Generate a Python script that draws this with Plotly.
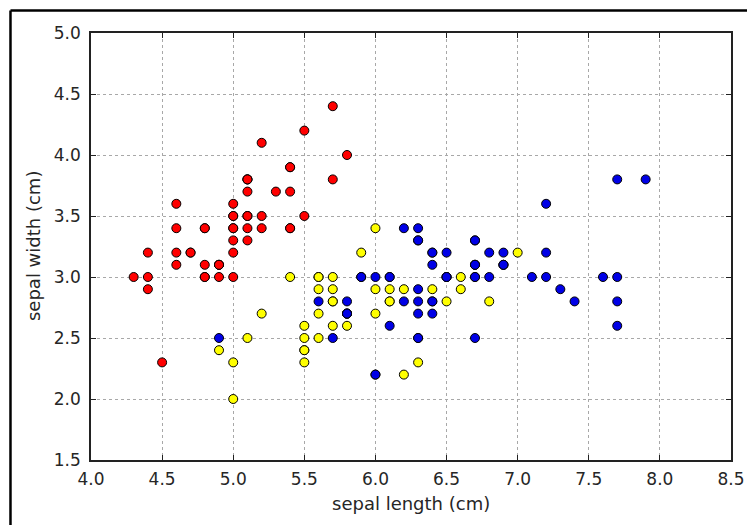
import plotly.graph_objects as go

# Iris sepal measurements, one pair of lists per species
setosa_length = [5.1, 4.9, 4.7, 4.6, 5.0, 5.4, 4.6, 5.0, 4.4, 4.9, 5.4, 4.8, 4.8, 4.3, 5.8, 5.7, 5.4,
                 5.1, 5.7, 5.1, 5.4, 5.1, 4.6, 5.1, 4.8, 5.0, 5.0, 5.2, 5.2, 4.7, 4.8, 5.4, 5.2, 5.5,
                 4.9, 5.0, 5.5, 4.9, 4.4, 5.1, 5.0, 4.5, 4.4, 5.0, 5.1, 4.8, 5.1, 4.6, 5.3, 5.0]
setosa_width = [3.5, 3.0, 3.2, 3.1, 3.6, 3.9, 3.4, 3.4, 2.9, 3.1, 3.7, 3.4, 3.0, 3.0, 4.0, 4.4, 3.9,
                3.5, 3.8, 3.8, 3.4, 3.7, 3.6, 3.3, 3.4, 3.0, 3.4, 3.5, 3.4, 3.2, 3.1, 3.4, 4.1, 4.2,
                3.1, 3.2, 3.5, 3.1, 3.0, 3.4, 3.5, 2.3, 3.2, 3.5, 3.8, 3.0, 3.8, 3.2, 3.7, 3.3]

versicolor_length = [7.0, 6.4, 6.9, 5.5, 6.5, 5.7, 6.3, 4.9, 6.6, 5.2, 5.0, 5.9, 6.0, 6.1, 5.6, 6.7,
                     5.6, 5.8, 6.2, 5.6, 5.9, 6.1, 6.3, 6.1, 6.4, 6.6, 6.8, 6.7, 6.0, 5.7, 5.5, 5.5,
                     5.8, 6.0, 5.4, 6.0, 6.7, 6.3, 5.6, 5.5, 5.5, 6.1, 5.8, 5.0, 5.6, 5.7, 5.7, 6.2,
                     5.1, 5.7]
versicolor_width = [3.2, 3.2, 3.1, 2.3, 2.8, 2.8, 3.3, 2.4, 2.9, 2.7, 2.0, 3.0, 2.2, 2.9, 2.9, 3.1,
                    3.0, 2.7, 2.2, 2.5, 3.2, 2.8, 2.5, 2.8, 2.9, 3.0, 2.8, 3.0, 2.9, 2.6, 2.4, 2.4,
                    2.7, 2.7, 3.0, 3.4, 3.1, 2.3, 3.0, 2.5, 2.6, 3.0, 2.6, 2.3, 2.7, 3.0, 2.9, 2.9,
                    2.5, 2.8]

virginica_length = [6.3, 5.8, 7.1, 6.3, 6.5, 7.6, 4.9, 7.3, 6.7, 7.2, 6.5, 6.4, 6.8, 5.7, 5.8, 6.4,
                    6.5, 7.7, 7.7, 6.0, 6.9, 5.6, 7.7, 6.3, 6.7, 7.2, 6.2, 6.1, 6.4, 7.2, 7.4, 7.9,
                    6.4, 6.3, 6.1, 7.7, 6.3, 6.4, 6.0, 6.9, 6.7, 6.9, 5.8, 6.8, 6.7, 6.7, 6.3, 6.5,
                    6.2, 5.9]
virginica_width = [3.3, 2.7, 3.0, 2.9, 3.0, 3.0, 2.5, 2.9, 2.5, 3.6, 3.2, 2.7, 3.0, 2.5, 2.8, 3.2,
                   3.0, 3.8, 2.6, 2.2, 3.2, 2.8, 2.8, 2.7, 3.3, 3.2, 2.8, 3.0, 2.8, 3.0, 2.8, 3.8,
                   2.8, 2.8, 2.6, 3.0, 3.4, 3.1, 3.0, 3.1, 3.1, 3.1, 2.7, 3.2, 3.3, 3.0, 2.5, 3.0,
                   3.4, 3.0]

x_ticks = [4.0, 4.5, 5.0, 5.5, 6.0, 6.5, 7.0, 7.5, 8.0, 8.5]
y_ticks = [1.5, 2.0, 2.5, 3.0, 3.5, 4.0, 4.5, 5.0]

species = [
    (setosa_length, setosa_width, "#ff0000"),
    (versicolor_length, versicolor_width, "#ffff00"),
    (virginica_length, virginica_width, "#0000e6"),
]

fig = go.Figure()
for xs, ys, color in species:
    fig.add_trace(go.Scatter(
        x=xs, y=ys, mode="markers",
        marker=dict(size=9, color=color, line=dict(color="black", width=1)),
        showlegend=False, hoverinfo="skip",
    ))

text_color = "#262626"
font_size = 17
axis_common = dict(
    showline=True, linecolor="#222", linewidth=1.5, mirror="allticks",
    ticks="inside", ticklen=5, tickwidth=1, tickcolor="#222",
    showgrid=True, gridcolor="#a8a8a8", gridwidth=1, griddash="3px,3px",
    zeroline=False, tickformat=".1f", automargin=False,
    tickfont=dict(family="DejaVu Sans", size=font_size, color=text_color),
)

fig.update_xaxes(range=[4.0, 8.5], tickvals=x_ticks, ticklabelstandoff=3, **axis_common)
fig.update_yaxes(range=[1.5, 5.0], tickvals=y_ticks, ticklabelstandoff=5, **axis_common)

fig.add_annotation(text="sepal length (cm)", x=0.5, y=0, xref="paper", yref="paper",
                   xanchor="center", yanchor="middle", yshift=-43, showarrow=False,
                   font=dict(family="DejaVu Sans", size=font_size + 1, color=text_color))
fig.add_annotation(text="sepal width (cm)", x=-0.0898, y=0.5, xref="paper", yref="paper",
                   xanchor="center", yanchor="middle", textangle=-90, showarrow=False,
                   font=dict(family="DejaVu Sans", size=font_size + 1, color=text_color))

# Frame lines along the top and left edges of the canvas
fig.add_shape(type="line", xref="paper", yref="paper", x0=-0.1258, x1=1.03, y0=1.0527, y1=1.0527,
              line=dict(color="black", width=2.5))
fig.add_shape(type="line", xref="paper", yref="paper", x0=-0.1258, x1=-0.1258, y0=1.0527, y1=-0.16,
              line=dict(color="black", width=2.5))

fig.update_layout(
    width=747, height=525,
    margin=dict(l=91, r=16, t=33, b=65),
    paper_bgcolor="white", plot_bgcolor="white",
    font=dict(family="DejaVu Sans", color=text_color),
)

fig.write_html("out.html")
